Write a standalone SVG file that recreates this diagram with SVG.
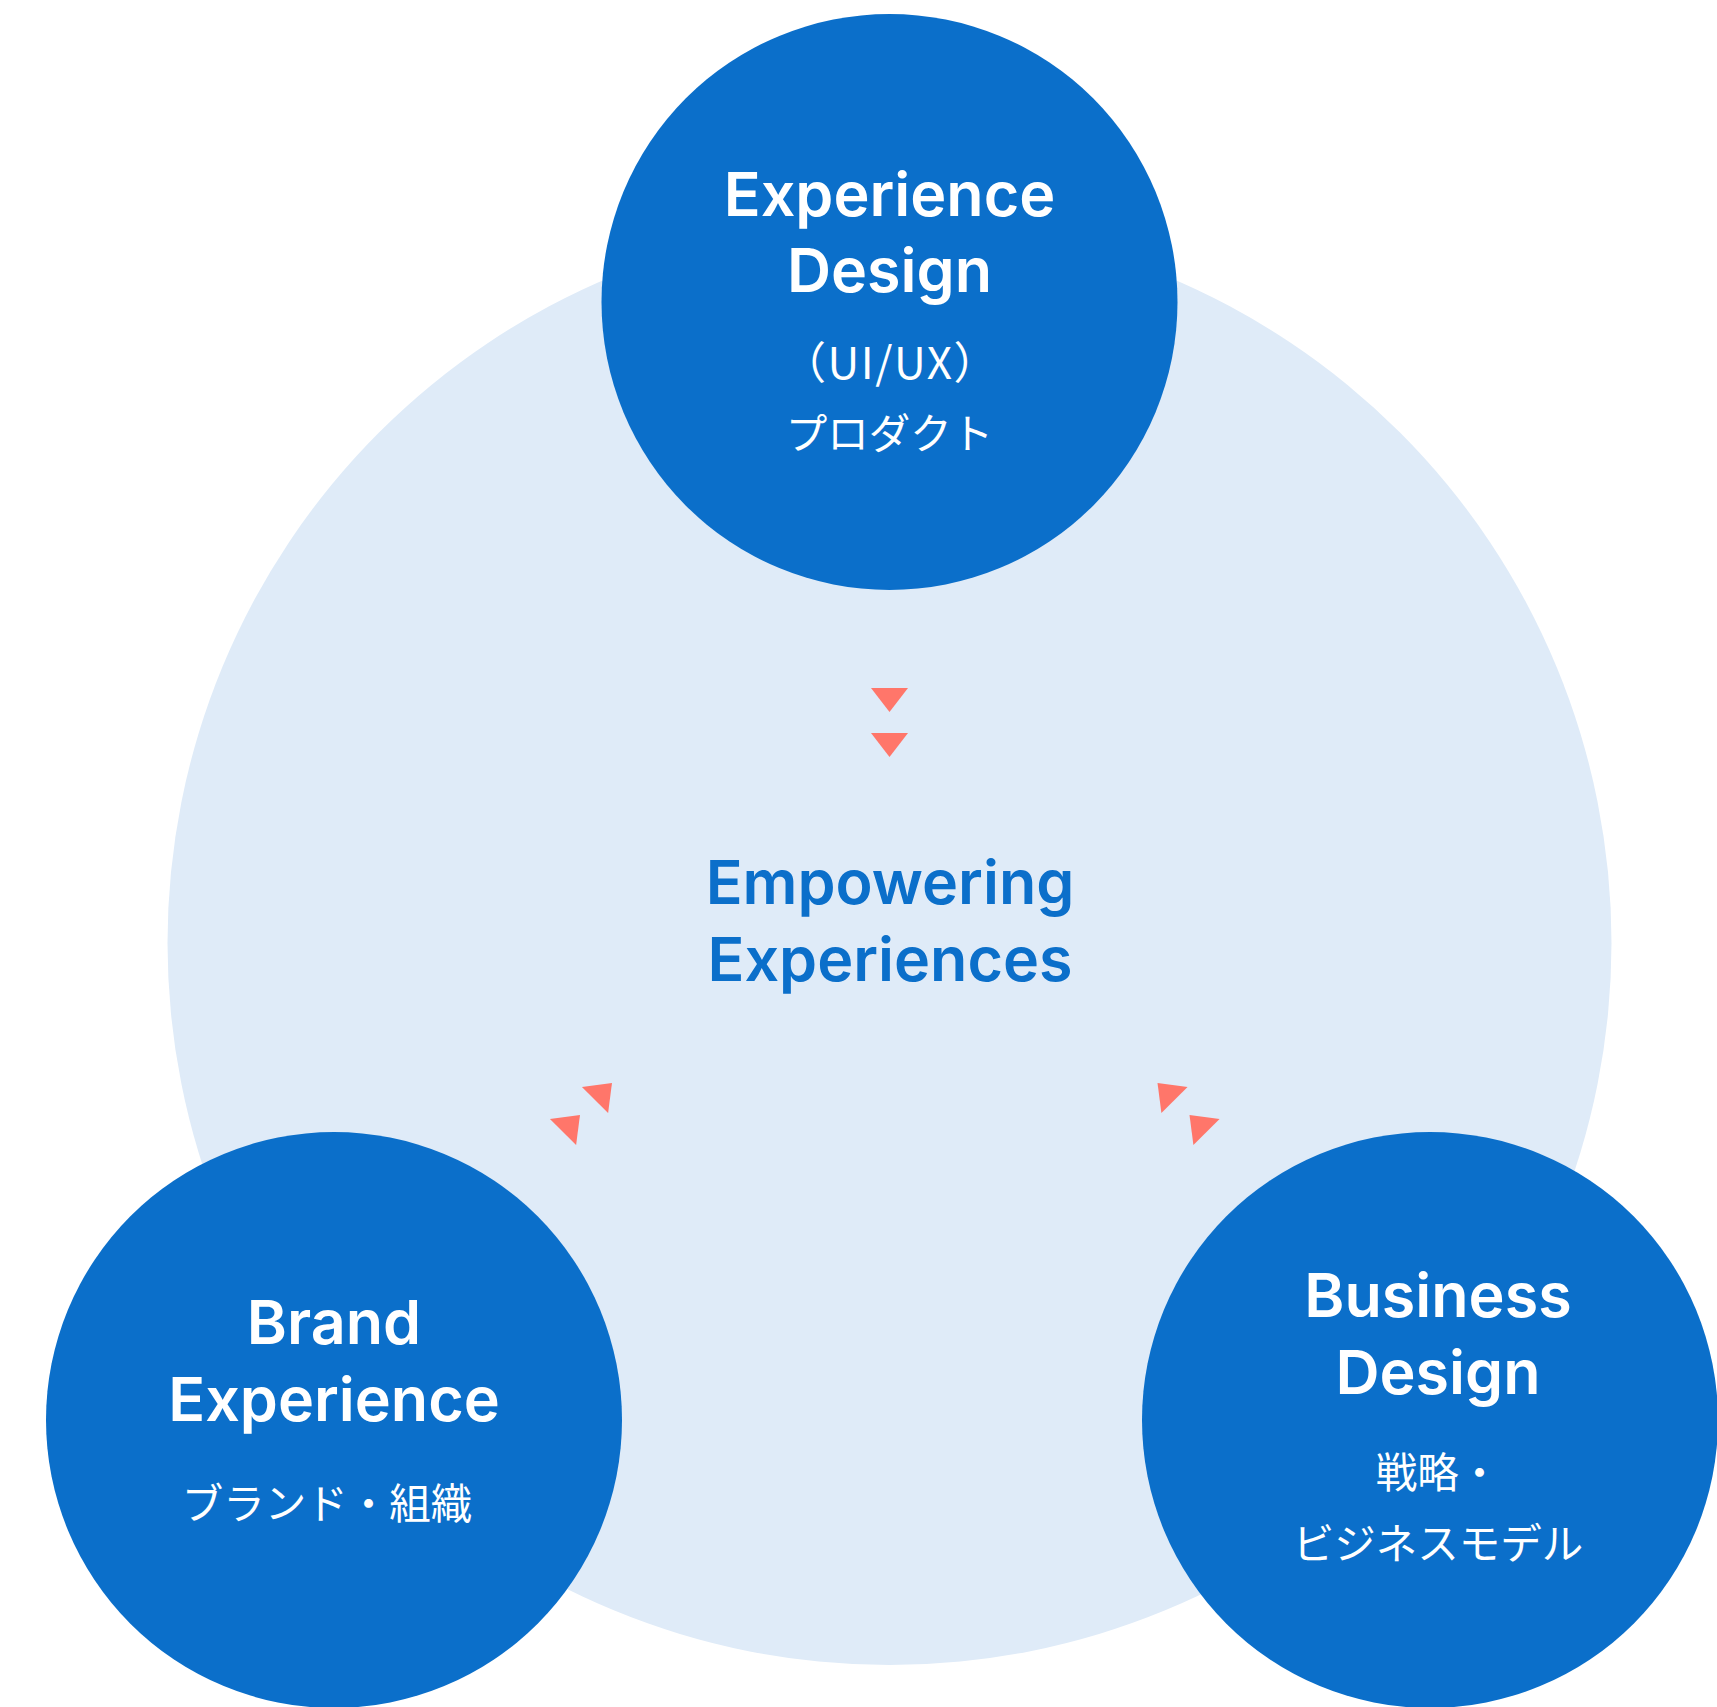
<svg xmlns="http://www.w3.org/2000/svg" width="1717" height="1707" viewBox="0 0 1717 1707">
  <style>
    .bg { fill: #DFEBF8; }
    .node { fill: #0B6FCA; }
    .title { font-family: Inter, "Noto Sans", sans-serif; font-weight: 600; font-size: 61px; fill: #FFFFFF; text-anchor: middle; }
    .center { font-family: Inter, "Noto Sans", sans-serif; font-weight: 600; font-size: 61px; fill: #0B6FCA; text-anchor: middle; }
    .sub { font-family: "Noto Sans CJK JP", "Noto Sans", sans-serif; font-weight: 400; font-size: 41.5px; fill: #FFFFFF; text-anchor: middle; }
    .paren { font-size: 44px; letter-spacing: 1.5px; }
    .tri { fill: #FF766A; }
  </style>
  <defs>
    <polygon id="tri" points="-18.5,-12 18.5,-12 0,12"/>
  </defs>
  <rect width="1717" height="1707" fill="#FFFFFF"/>
  <g id="hub">
    <circle class="bg" cx="889.5" cy="943" r="722"/>
    <text class="center" x="890" y="904">Empowering</text>
    <text class="center" x="890" y="981">Experiences</text>
  </g>
  <g id="connectors">
    <use href="#tri" class="tri" transform="translate(889.5,700)"/>
    <use href="#tri" class="tri" transform="translate(889.5,745)"/>
    <use href="#tri" class="tri" transform="translate(603.5,1091.5) rotate(-135)"/>
    <use href="#tri" class="tri" transform="translate(571.5,1123.5) rotate(-135)"/>
    <use href="#tri" class="tri" transform="translate(1166,1091.5) rotate(135)"/>
    <use href="#tri" class="tri" transform="translate(1198,1123.5) rotate(135)"/>
  </g>
  <g id="experience-design">
    <circle class="node" cx="889.5" cy="302" r="288"/>
    <text class="title" x="889.5" y="216">Experience</text>
    <text class="title" x="889.5" y="292">Design</text>
    <text class="sub paren" x="890.5" y="379">（UI/UX）</text>
    <text class="sub" x="889.5" y="449">プロダクト</text>
  </g>
  <g id="brand-experience">
    <circle class="node" cx="334" cy="1420" r="288"/>
    <text class="title" x="334" y="1344">Brand</text>
    <text class="title" x="334" y="1421">Experience</text>
    <text class="sub" x="327" y="1519">ブランド・組織</text>
  </g>
  <g id="business-design">
    <circle class="node" cx="1430" cy="1420" r="288"/>
    <text class="title" x="1438" y="1317">Business</text>
    <text class="title" x="1438" y="1394">Design</text>
    <text class="sub" x="1438" y="1488">戦略・</text>
    <text class="sub" x="1438" y="1559">ビジネスモデル</text>
  </g>
</svg>
